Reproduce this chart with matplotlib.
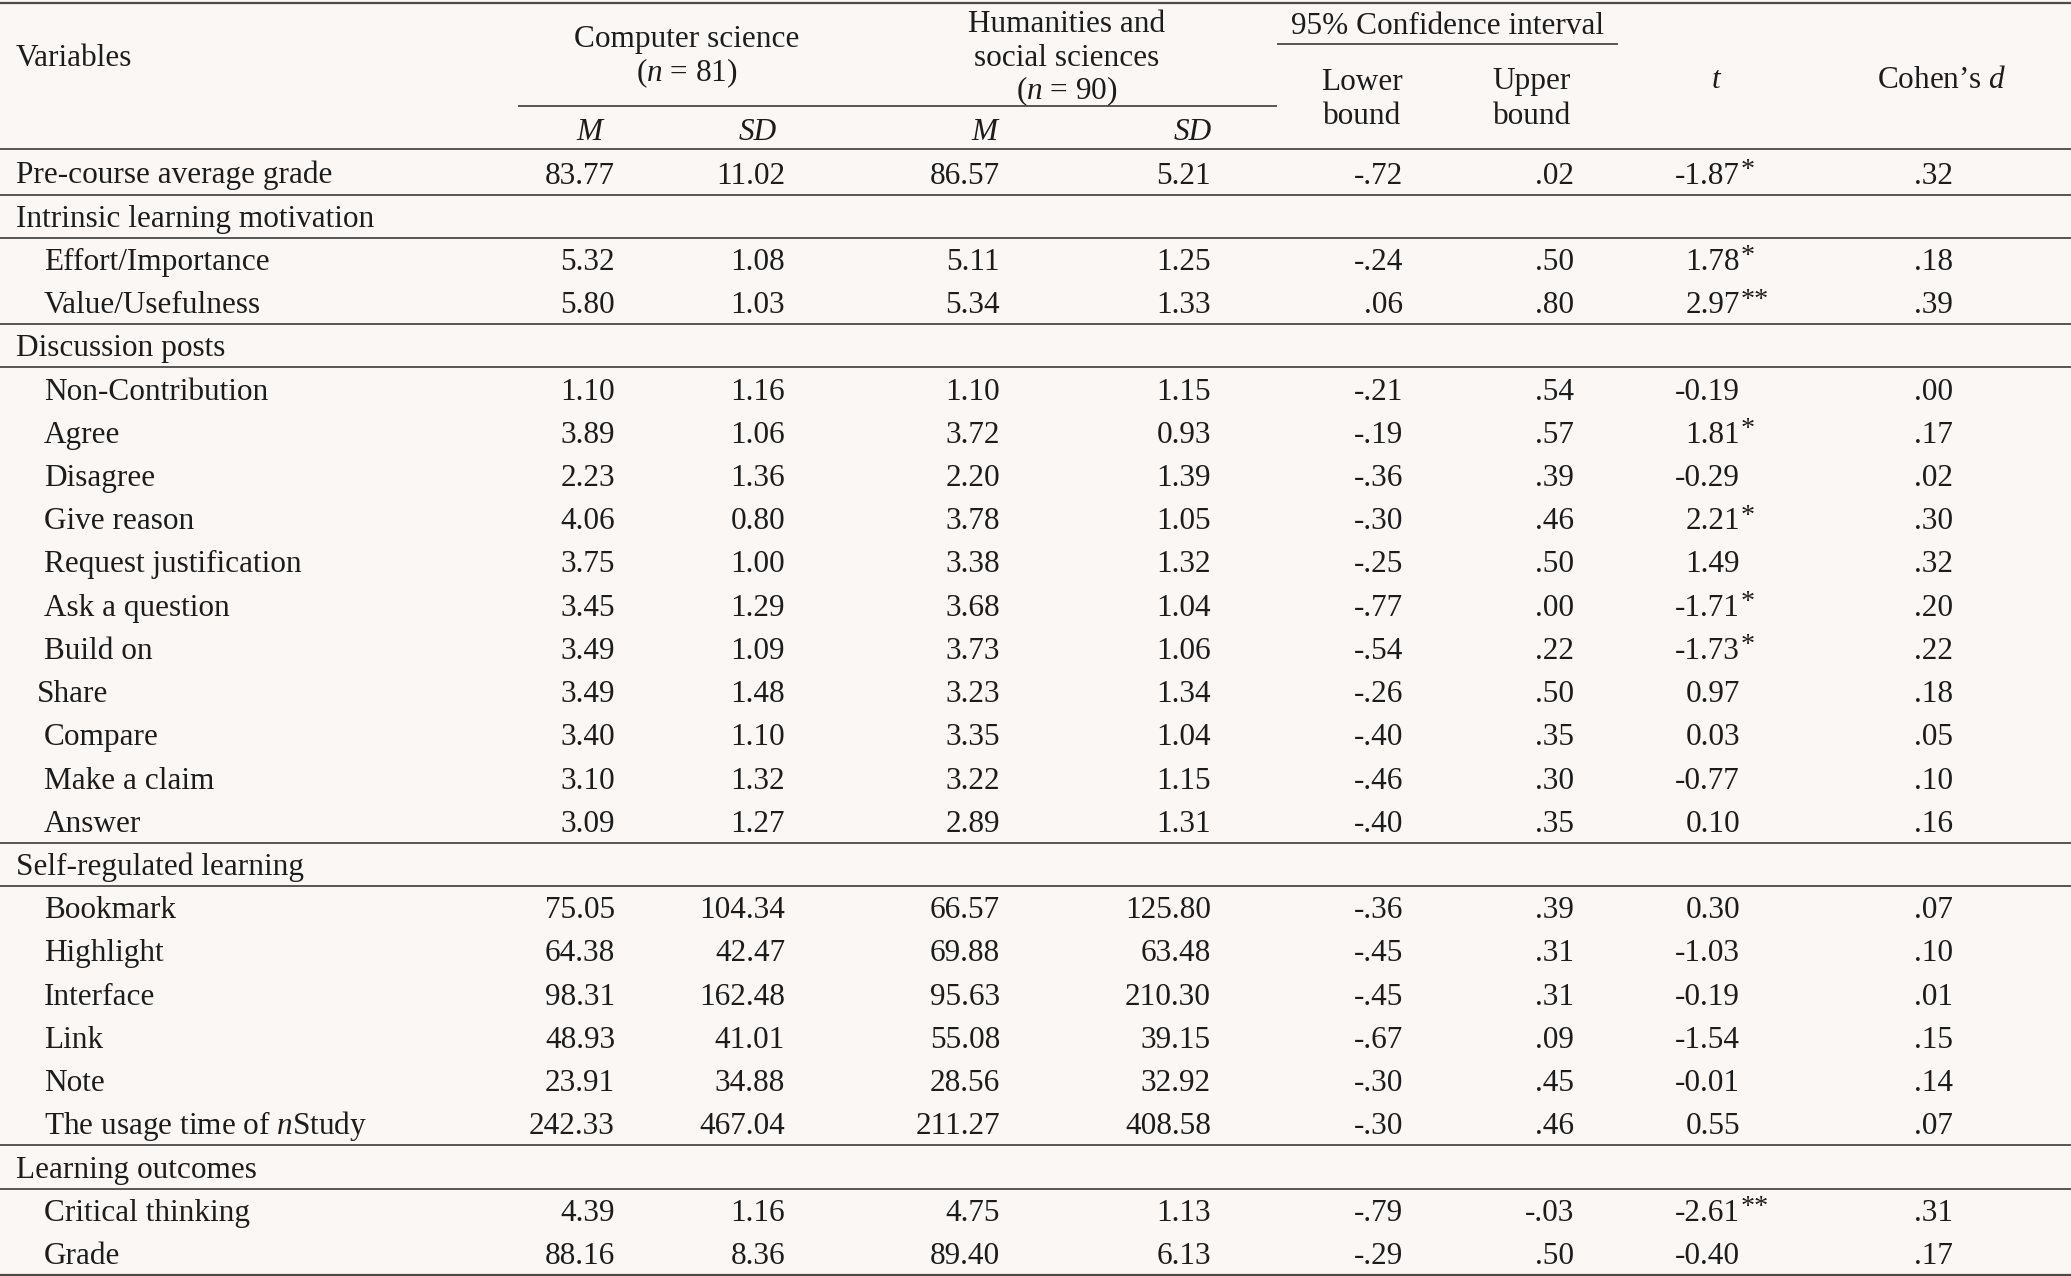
"""Group comparison table: computer science vs humanities and social sciences."""

import matplotlib.pyplot as plt

plt.rcParams["font.family"] = ["Liberation Serif", "DejaVu Serif"]
plt.rcParams["mathtext.fontset"] = "custom"
plt.rcParams["mathtext.rm"] = "Liberation Serif"
plt.rcParams["mathtext.it"] = "Liberation Serif:italic"

W, H = 2071, 1276
BG = "#fbf7f4"
INK = "#1c1c1c"
RULE = "#4a4a4a"
FS = 22.5

# ---- data -----------------------------------------------------------------
# level 0 = section header / top-level variable, level 1 = indented item
labels = [
    "Pre-course average grade",
    "Intrinsic learning motivation",
    "Effort/Importance", "Value/Usefulness",
    "Discussion posts",
    "Non-Contribution", "Agree", "Disagree", "Give reason",
    "Request justification", "Ask a question", "Build on", "Share",
    "Compare", "Make a claim", "Answer",
    "Self-regulated learning",
    "Bookmark", "Highlight", "Interface", "Link", "Note",
    "The usage time of $n$Study",
    "Learning outcomes",
    "Critical thinking", "Grade",
]
levels = [0, 0, 1, 1, 0, 1, 1, 1, 1, 1, 1, 1, 1, 1, 1, 1,
          0, 1, 1, 1, 1, 1, 1, 0, 1, 1]
is_section = [False, True, False, False, True] + [False] * 11 + [True] + [False] * 6 + [True, False, False]

N = None
cs_m = [83.77, N, 5.32, 5.80, N, 1.10, 3.89, 2.23, 4.06, 3.75, 3.45, 3.49, 3.49,
        3.40, 3.10, 3.09, N, 75.05, 64.38, 98.31, 48.93, 23.91, 242.33, N, 4.39, 88.16]
cs_sd = [11.02, N, 1.08, 1.03, N, 1.16, 1.06, 1.36, 0.80, 1.00, 1.29, 1.09, 1.48,
         1.10, 1.32, 1.27, N, 104.34, 42.47, 162.48, 41.01, 34.88, 467.04, N, 1.16, 8.36]
hss_m = [86.57, N, 5.11, 5.34, N, 1.10, 3.72, 2.20, 3.78, 3.38, 3.68, 3.73, 3.23,
         3.35, 3.22, 2.89, N, 66.57, 69.88, 95.63, 55.08, 28.56, 211.27, N, 4.75, 89.40]
hss_sd = [5.21, N, 1.25, 1.33, N, 1.15, 0.93, 1.39, 1.05, 1.32, 1.04, 1.06, 1.34,
          1.04, 1.15, 1.31, N, 125.80, 63.48, 210.30, 39.15, 32.92, 408.58, N, 1.13, 6.13]
ci_lower = [-.72, N, -.24, .06, N, -.21, -.19, -.36, -.30, -.25, -.77, -.54, -.26,
            -.40, -.46, -.40, N, -.36, -.45, -.45, -.67, -.30, -.30, N, -.79, -.29]
ci_upper = [.02, N, .50, .80, N, .54, .57, .39, .46, .50, .00, .22, .50,
            .35, .30, .35, N, .39, .31, .31, .09, .45, .46, N, -.03, .50]
t_vals = [-1.87, N, 1.78, 2.97, N, -0.19, 1.81, -0.29, 2.21, 1.49, -1.71, -1.73, 0.97,
          0.03, -0.77, 0.10, N, 0.30, -1.03, -0.19, -1.54, -0.01, 0.55, N, -2.61, -0.40]
t_stars = ["*", "", "*", "**", "", "", "*", "", "*", "", "*", "*", "",
           "", "", "", "", "", "", "", "", "", "", "", "**", ""]
cohen_d = [.32, N, .18, .39, N, .00, .17, .02, .30, .32, .20, .22, .18,
           .05, .10, .16, N, .07, .10, .01, .15, .14, .07, N, .31, .17]


def fmt(v):
    return f"{v:.2f}"


def fmt_nolead(v):
    s = f"{v:.2f}"
    return s.replace("0.", ".", 1)


columns = [
    (cs_m, fmt), (cs_sd, fmt), (hss_m, fmt), (hss_sd, fmt),
    (ci_lower, fmt_nolead), (ci_upper, fmt_nolead), (t_vals, fmt), (cohen_d, fmt_nolead),
]

# ---- layout (pixels of the output image) ---------------------------------
col_right = [615, 785, 1000, 1211, 1403, 1574, 1740, 1953]
label_x = {0: 16, 1: 44}
label_x_override = {"Share": 37}
row0_y = 173.0
pitch = 43.22
base_off = 10.5  # baseline below the visual centre of a row

fig = plt.figure(figsize=(W / 100, H / 100), dpi=100, facecolor=BG)
ax = fig.add_axes([0, 0, 1, 1])
ax.set_xlim(0, W)
ax.set_ylim(H, 0)
ax.axis("off")
ax.set_facecolor(BG)


def txt(x, y, s, ha="center", size=FS, **kw):
    ax.text(x, y + base_off, s, ha=ha, va="baseline", fontsize=size, color=INK, **kw)


def hrule(y, x0=0, x1=W, lw=1.3):
    ax.plot([x0, x1], [y, y], color=RULE, lw=lw, solid_capstyle="butt")


# header
hrule(3, lw=1.6)
txt(16, 55, "Variables", ha="left")
txt(687, 37, "Computer science")
txt(687, 71, "($n$ = 81)")
txt(1067, 21, "Humanities and")
txt(1067, 55, "social sciences")
txt(1067, 89, "($n$ = 90)")
txt(1448, 24, "95% Confidence interval")
hrule(44, 1277, 1618)
txt(1362, 79, "Lower")
txt(1362, 114, "bound")
txt(1532, 79, "Upper")
txt(1532, 114, "bound")
txt(1717, 77, "$t$")
txt(1942, 77, "Cohen’s $d$")
hrule(106, 518, 1277)
for x, s in zip([589, 758, 984, 1193], ["M", "SD", "M", "SD"]):
    txt(x, 129, s, style="italic")
hrule(149)

# body
n_rows = len(labels)
for i, lab in enumerate(labels):
    y = row0_y + i * pitch
    x = label_x_override.get(lab, label_x[levels[i]])
    txt(x, y, lab, ha="left")
    for (vals, f), xr in zip(columns, col_right):
        if vals[i] is None:
            continue
        txt(xr, y, f(vals[i]), ha="right")
    if t_stars[i]:
        # significance marks, drawn a bit larger than a plain superscript
        ax.text(col_right[6] + 1, y + 4, t_stars[i], ha="left", va="baseline",
                fontsize=FS * 0.9, color=INK)
    last = i == n_rows - 1
    if is_section[i] or i == 0 or last or is_section[i + 1]:
        hrule(y + pitch / 2, lw=1.6 if last else 1.3)

fig.savefig("out.png", dpi=100, facecolor=BG)
